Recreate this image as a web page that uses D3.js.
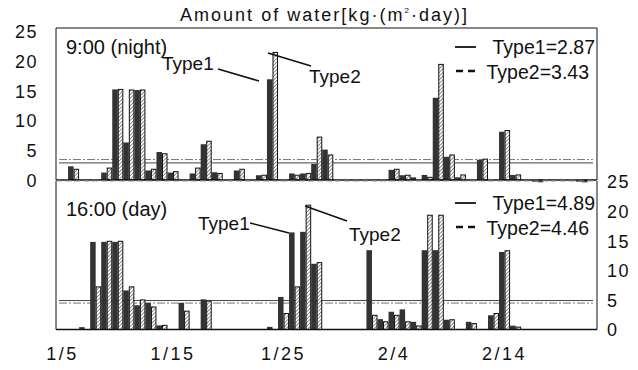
<!DOCTYPE html>
<html>
<head>
  <meta charset="UTF-8">
  <style>
    body { margin: 0; background: #fff; }
    text { font-family: "Liberation Sans", Arial, sans-serif; fill: #111; }
  </style>
</head>
<body>
  <svg></svg>
<script src="https://d3js.org/d3.v7.min.js"></script>

<script>
let width = 638,
    height = 370;

// days 1/5 .. 2/22
let days = d3.timeDay.range(new Date(2000, 0, 5), new Date(2000, 1, 23))
    .map(d3.timeFormat("%-m/%-d"));
let dayTicks = ["1/5", "1/15", "1/25", "2/4", "2/14"];
let yTicks = [0, 5, 10, 15, 20, 25];
let types = ["Type1", "Type2"];

// 9:00 (night)
let night1 = [0, 2.3, 0, 0, 1.25, 15.2, 6.3, 15.1, 1.6, 4.7, 1.25, 0, 1.1, 6.0, 1.3, 0,
  1.6, 0, 0.8, 16.9, 0, 1.1, 1.1, 2.7, 5.1, 0, 0, 0, 0, 0, 1.7, 0.8, 0.45, 0.85, 13.8,
  3.9, 0.45, 0, 3.4, 0, 8.1, 0.85, 0, -0.3, 0, 0, 0, -0.3, 0];
let night2 = [0, 1.8, 0, 0, 2.0, 15.2, 15.1, 15.1, 1.8, 4.4, 1.4, 0, 2.0, 6.5, 1.1, 0,
  1.8, 0, 0.8, 21.4, 0, 0.8, 1.1, 7.2, 4.2, 0, 0, 0, 0, 0, 1.8, 0.8, 0, 0.45, 19.4,
  4.2, 0.85, 0, 3.5, 0, 8.3, 0.85, 0, -0.3, 0, 0, 0, -0.3, 0];
// 16:00 (day)
let day1 = [0, 0, 0.4, 14.8, 14.8, 14.8, 6.6, 4.1, 4.5, 0.7, 0, 4.5, 0, 5.1, 0, 0,
  0, 0, 0, 0.45, 5.5, 16.4, 16.5, 11.1, 0, 0, 0, 0, 13.4, 1.75, 3.0, 3.4, 1.3, 13.4,
  13.4, 1.65, 0, 1.3, 0, 2.4, 13.1, 0.65, 0, 0, 0, 0, 0, 0, 0];
let day2 = [0, 0, 0, 7.2, 14.9, 14.9, 7.2, 5.0, 3.8, 0.7, 0, 3.1, 0, 4.8, 0, 0,
  0, 0, 0, 0, 2.7, 7.2, 21.0, 11.3, 0, 0, 0, 0, 2.4, 1.3, 2.4, 1.3, 0.6, 19.3,
  19.3, 1.65, 0, 1.0, 0, 2.7, 13.3, 0.4, 0, 0, 0, 0, 0, 0, 0];
let nightMean = [2.87, 3.43];
let dayMean = [4.89, 4.46];

let svg = d3.select("svg")
    .attr("width", width)
    .attr("height", height);

let defs = svg.append("defs");
defs.append("pattern")
    .attr("id", "hatch")
    .attr("patternUnits", "userSpaceOnUse")
    .attr("width", 2.6)
    .attr("height", 2.6)
    .attr("patternTransform", "rotate(45)")
  .call(p => {
    p.append("rect").attr("width", 2.6).attr("height", 2.6).attr("fill", "#fff");
    p.append("line").attr("x1", 0).attr("y1", 0).attr("x2", 0).attr("y2", 2.6)
      .attr("stroke", "#555").attr("stroke-width", 1.3);
  });

let left = 56, right = 597;

let x = d3.scaleBand()
    .domain(days)
    .range([57, 598.5])
    .padding(0);

let xSub = d3.scaleBand()
    .domain(types)
    .range([0, x.bandwidth()]);

let panels = [
  { name: "9:00 (night)", v1: night1, v2: night2, mean: nightMean, top: 28,
    y: d3.scaleLinear().domain([0, 25]).range([180, 31]),
    labelY: 54, legendY: [47, 71],
    notes: [
      { text: "Type1", x: 162, y: 70, line: [218, 69, 259, 81] },
      { text: "Type2", x: 309, y: 83, line: [268, 53, 311, 66] }
    ] },
  { name: "16:00 (day)", v1: day1, v2: day2, mean: dayMean, top: 181,
    y: d3.scaleLinear().domain([0, 25]).range([329.5, 181.5]),
    labelY: 216, legendY: [203, 227],
    notes: [
      { text: "Type1", x: 198, y: 230, line: [250, 223, 289, 233] },
      { text: "Type2", x: 349, y: 241, line: [305, 206, 347, 221] }
    ] }
];

panels.forEach((p, pi) => {
  let g = svg.append("g");
  let y = p.y;
  let base = y(0);

  // mean lines
  g.append("line")
    .attr("x1", left + 3).attr("x2", right - 4)
    .attr("y1", y(p.mean[0])).attr("y2", y(p.mean[0]))
    .attr("stroke", "#444").attr("stroke-width", 1);
  g.append("line")
    .attr("x1", left + 3).attr("x2", right - 4)
    .attr("y1", y(p.mean[1])).attr("y2", y(p.mean[1]))
    .attr("stroke", "#777").attr("stroke-width", 1)
    .attr("stroke-dasharray", "8,2,2,2");

  let rows = days.map((d, i) => ({ day: d, a: p.v1[i], b: p.v2[i] }));

  g.append("g").selectAll("rect")
    .data(rows.filter(r => r.a !== 0))
    .enter()
    .append("rect")
    .attr("x", r => x(r.day) + xSub("Type1"))
    .attr("y", r => Math.min(y(r.a), base))
    .attr("width", xSub.bandwidth())
    .attr("height", r => Math.abs(y(r.a) - base))
    .attr("fill", "#333");

  g.append("g").selectAll("rect")
    .data(rows.filter(r => r.b !== 0))
    .enter()
    .append("rect")
    .attr("x", r => x(r.day) + xSub("Type2") + 0.5)
    .attr("y", r => Math.min(y(r.b), base))
    .attr("width", xSub.bandwidth() - 1)
    .attr("height", r => Math.abs(y(r.b) - base))
    .attr("fill", "url(#hatch)")
    .attr("stroke", "#111")
    .attr("stroke-width", 1);

  // frame
  g.append("line").attr("x1", left).attr("x2", left).attr("y1", p.top).attr("y2", base)
    .attr("stroke", "#111");
  g.append("line").attr("x1", right).attr("x2", right).attr("y1", p.top).attr("y2", base)
    .attr("stroke", "#111");
  g.append("line").attr("x1", left).attr("x2", right).attr("y1", p.top).attr("y2", p.top)
    .attr("stroke", pi == 0 ? "#111" : "#999")
    .attr("stroke-dasharray", pi == 0 ? null : "6,3");
  g.append("line").attr("x1", left).attr("x2", right).attr("y1", base).attr("y2", base)
    .attr("stroke", "#111").attr("stroke-width", 1.3);

  // y axis
  let axis = pi == 0
    ? d3.axisLeft(y).tickValues(yTicks).tickSize(0).tickPadding(18)
    : d3.axisRight(y).tickValues(yTicks).tickSize(0).tickPadding(10);
  g.append("g")
    .attr("transform", "translate(" + (pi == 0 ? left : right) + ",0)")
    .call(axis)
    .call(a => a.select(".domain").remove())
    .selectAll("text")
      .style("font-size", "18px")
      .style("letter-spacing", "1.5px")
      .attr("dy", "0.36em")
      .attr("fill", "#111");

  // panel label
  g.append("text")
    .attr("x", 66).attr("y", p.labelY)
    .style("font-size", "20px")
    .text(p.name);

  // annotations
  p.notes.forEach(n => {
    g.append("text").attr("x", n.x).attr("y", n.y)
      .style("font-size", "19px").text(n.text);
    g.append("line")
      .attr("x1", n.line[0]).attr("y1", n.line[1])
      .attr("x2", n.line[2]).attr("y2", n.line[3])
      .attr("stroke", "#111").attr("stroke-width", 1.6);
  });

  // legend
  g.append("line").attr("x1", 455).attr("x2", 476)
    .attr("y1", p.legendY[0]).attr("y2", p.legendY[0])
    .attr("stroke", "#111").attr("stroke-width", 1.8);
  g.append("line").attr("x1", 456).attr("x2", 476)
    .attr("y1", p.legendY[1]).attr("y2", p.legendY[1])
    .attr("stroke", "#111").attr("stroke-width", 2.6)
    .attr("stroke-dasharray", "7,5");
  g.append("text").attr("x", 595).attr("y", p.legendY[0] + 7)
    .attr("text-anchor", "end")
    .style("font-size", "19.5px")
    .text("Type1=" + p.mean[0].toFixed(2));
  g.append("text").attr("x", 589).attr("y", p.legendY[1] + 8)
    .attr("text-anchor", "end")
    .style("font-size", "19.5px")
    .text("Type2=" + p.mean[1].toFixed(2));
});

// x axis labels
svg.append("g")
  .attr("transform", "translate(0,347)")
  .call(d3.axisBottom(x).tickValues(dayTicks).tickSize(0).tickPadding(0))
  .call(a => a.select(".domain").remove())
  .selectAll("text")
    .style("font-size", "18px")
    .style("letter-spacing", "2.5px")
    .attr("fill", "#111");

// title
let title = svg.append("text")
  .attr("x", 180).attr("y", 21)
  .attr("textLength", 287)
  .attr("lengthAdjust", "spacing")
  .style("font-size", "18px");
title.append("tspan").text("Amount of water[kg\u00b7(m");
title.append("tspan").attr("dy", -8).style("font-size", "8px").text("2");
title.append("tspan").attr("dy", 8).text("\u00b7day)]");
</script>
</body>
</html>
